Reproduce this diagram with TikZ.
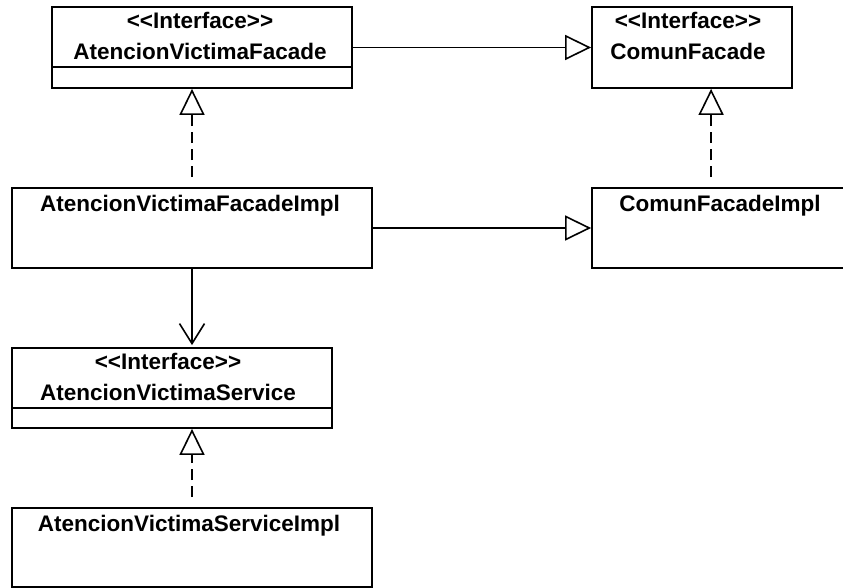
\documentclass[tikz,border=0pt]{standalone}
\usepackage{fontspec}
\setmainfont{Liberation Sans}
\usetikzlibrary{arrows.meta,calc}
% guillemet-free stereotype brackets
\newcommand{\stereo}[1]{\mbox{<}\mbox{<}#1\mbox{>}\mbox{>}}
\tikzset{
  umlbox/.style={draw, line width=1.8pt, fill=white, inner sep=0pt},
  lbl/.style={font=\fontsize{22.5}{26}\selectfont\bfseries, inner sep=0pt, anchor=base},
  compart/.style={line width=1.8pt},
  conn/.style={line width=1.6pt},
  realizes/.style={conn, dashed, dash pattern=on 11pt off 6pt, shorten <=10pt,
    -{Triangle[open, length=26pt, width=25pt]}},
  inherits/.style={conn, -{Triangle[open, length=26pt, width=25pt]}},
  uses/.style={conn, -{Straight Barb[length=20pt, width=25pt]}, shorten >=2pt},
}
\begin{document}
\begin{tikzpicture}[x=1pt, y=-1pt]
  \useasboundingbox (0,0) rectangle (843,588);
  \clip (0,0) rectangle (843,588);
  \fill[white] (0,0) rectangle (843,588);

  % interfaces
  \node[umlbox, minimum width=300pt, minimum height=81pt] (af) at (202,47.5) {};
  \node[umlbox, minimum width=200pt, minimum height=81pt] (cf) at (692,47.5) {};
  \node[umlbox, minimum width=320pt, minimum height=80pt] (as) at (172,388) {};

  % implementations
  \node[umlbox, minimum width=360pt, minimum height=80pt] (afi) at (192,228) {};
  \node[umlbox, minimum width=262pt, minimum height=80pt] (cfi) at (723,228) {};
  \node[umlbox, minimum width=360pt, minimum height=79pt] (asi) at (192,547.5) {};

  % compartment separators
  \draw[compart] ($(af.north west)+(0,61)$) -- ($(af.north east)+(0,61)$);
  \draw[compart] ($(as.north west)+(0,61)$) -- ($(as.north east)+(0,61)$);

  % labels
  \node[lbl] (af-st) at ($(af.north)+(-2,22)$) {\stereo{Interface}};
  \node[lbl] (af-nm) at ($(af.north)+(-2,53)$) {AtencionVictimaFacade};
  \node[lbl] (cf-st) at ($(cf.north)+(-4,22)$) {\stereo{Interface}};
  \node[lbl] (cf-nm) at ($(cf.north)+(-4,53)$) {ComunFacade};
  \node[lbl] (as-st) at ($(as.north)+(-4,22)$) {\stereo{Interface}};
  \node[lbl] (as-nm) at ($(as.north)+(-4,53)$) {AtencionVictimaService};
  \node[lbl] (afi-nm) at ($(afi.north)+(-2,24)$) {AtencionVictimaFacadeImpl};
  \node[lbl] (cfi-nm) at ($(cfi.north)+(-3,24)$) {ComunFacadeImpl};
  \node[lbl] (asi-nm) at ($(asi.north)+(-3,24)$) {AtencionVictimaServiceImpl};

  % connectors
  \coordinate (cfi-top) at ($(cfi.north west)+(120,0)$);
  \draw[inherits] (af.east) -- (af.east -| cf.west);
  \draw[inherits] (afi.east) -- (afi.east -| cfi.west);
  \draw[realizes] (afi.north) -- (afi.north |- af.south);
  \draw[realizes] (cfi-top) -- (cfi-top |- cf.south);
  \draw[uses] (afi.south) -- (afi.south |- as.north);
  \draw[realizes] (asi.north) -- (asi.north |- as.south);
\end{tikzpicture}
\end{document}
